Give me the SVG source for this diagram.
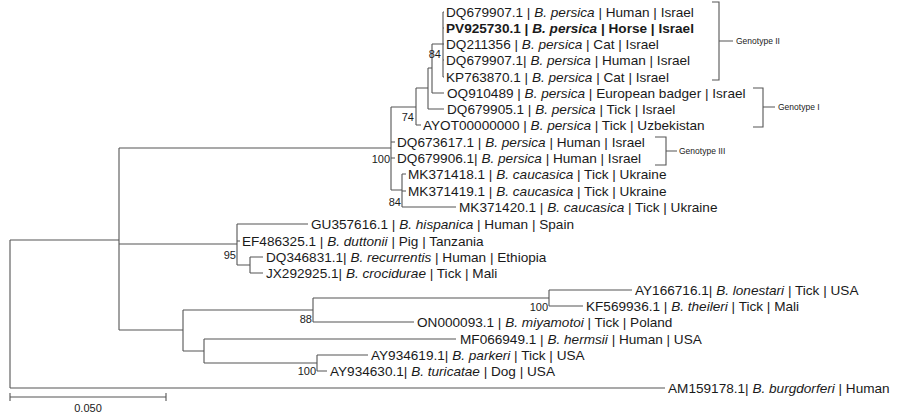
<svg xmlns="http://www.w3.org/2000/svg" width="900" height="420" viewBox="0 0 900 420">
<style>
text{font-family:"Liberation Sans",Arial,sans-serif;fill:#1a1a1a}
.l{font-size:13.6px}
.b{font-size:11px}
.g{font-size:8.5px}
.e path,.br path{fill:none;stroke:#555;stroke-width:1.1}
</style>
<rect width="900" height="420" fill="#fff"/>
<g class="e" id="connectors">
<path d="M10 240V388M10 240H119M10 388H665"/>
<path d="M119 148V330M119 148H391M119 244H237M119 330H183"/>
<path d="M391 107V190M391 107H416M391 142H395M391 158H395M391 190H402"/>
<path d="M416 88V125M416 88H428M416 125H421"/>
<path d="M428 68V109M428 68H432M428 109H444"/>
<path d="M432 44V93M432 44H443M432 93H444"/>
<path d="M443 12V77M443 12H444M443 28H444M443 44H444M443 60H444M443 77H444"/>
<path d="M402 174V207M402 174H406M402 191H406M402 207H456"/>
<path d="M237 224V265M237 224H308M237 241H240M237 265H250"/>
<path d="M250 257V273M250 257H263M250 273H263"/>
<path d="M183 310V351M183 310H313M183 351H204"/>
<path d="M313 298V322M313 298H549M313 322H414"/>
<path d="M549 290V306M549 290H632M549 306H583"/>
<path d="M204 339V363M204 339H456M204 363H317"/>
<path d="M317 355V371M317 355H368M317 371H327"/>
</g>
<g class="br" id="brackets">
<path d="M712 2H719V80H712M719 41H733"/>
<path d="M753 88H763V127H753M763 107H775"/>
<path d="M655 137H666V165H655M666 151H677"/>
</g>
<g id="scale" class="e"><path d="M10 397H166M10 393V401M166 393V401"/></g>
<text x="88" y="412" font-size="11" text-anchor="middle">0.050</text>
<g id="leaves" class="l">
<text x="446" y="17">DQ679907.1 | <tspan font-style="italic">B. persica</tspan> | Human | Israel</text>
<text x="446" y="33" font-weight="bold">PV925730.1 | <tspan font-style="italic">B. persica</tspan> | Horse | Israel</text>
<text x="446" y="49">DQ211356 | <tspan font-style="italic">B. persica</tspan> | Cat | Israel</text>
<text x="446" y="65">DQ679907.1| <tspan font-style="italic">B. persica</tspan> | Human | Israel</text>
<text x="446" y="82">KP763870.1 | <tspan font-style="italic">B. persica</tspan> | Cat | Israel</text>
<text x="447" y="98">OQ910489 | <tspan font-style="italic">B. persica</tspan> | European badger | Israel</text>
<text x="447" y="114">DQ679905.1 | <tspan font-style="italic">B. persica</tspan> | Tick | Israel</text>
<text x="423" y="130">AYOT00000000 | <tspan font-style="italic">B. persica</tspan> | Tick | Uzbekistan</text>
<text x="397" y="147">DQ673617.1 | <tspan font-style="italic">B. persica</tspan> | Human | Israel</text>
<text x="397" y="163">DQ679906.1| <tspan font-style="italic">B. persica</tspan> | Human | Israel</text>
<text x="408" y="179">MK371418.1 | <tspan font-style="italic">B. caucasica</tspan> | Tick | Ukraine</text>
<text x="408" y="196">MK371419.1 | <tspan font-style="italic">B. caucasica</tspan> | Tick | Ukraine</text>
<text x="459" y="212">MK371420.1 | <tspan font-style="italic">B. caucasica</tspan> | Tick | Ukraine</text>
<text x="311" y="229">GU357616.1 | <tspan font-style="italic">B. hispanica</tspan> | Human | Spain</text>
<text x="242" y="246">EF486325.1 | <tspan font-style="italic">B. duttonii</tspan> | Pig | Tanzania</text>
<text x="266" y="262">DQ346831.1| <tspan font-style="italic">B. recurrentis</tspan> | Human | Ethiopia</text>
<text x="266" y="278">JX292925.1| <tspan font-style="italic">B. crocidurae</tspan> | Tick | Mali</text>
<text x="635" y="295">AY166716.1| <tspan font-style="italic">B. lonestari</tspan> | Tick | USA</text>
<text x="586" y="311">KF569936.1 | <tspan font-style="italic">B. theileri</tspan> | Tick | Mali</text>
<text x="417" y="327">ON000093.1 | <tspan font-style="italic">B. miyamotoi</tspan> | Tick | Poland</text>
<text x="460" y="344">MF066949.1 | <tspan font-style="italic">B. hermsii</tspan> | Human | USA</text>
<text x="371" y="360">AY934619.1| <tspan font-style="italic">B. parkeri</tspan> | Tick | USA</text>
<text x="330" y="376">AY934630.1| <tspan font-style="italic">B. turicatae</tspan> | Dog | USA</text>
<text x="668" y="393">AM159178.1| <tspan font-style="italic">B. burgdorferi</tspan> | Human</text>
</g>
<g id="bootstrap" class="b" text-anchor="end">
<text x="441" y="58">84</text>
<text x="414" y="121">74</text>
<text x="390" y="163">100</text>
<text x="401" y="206">84</text>
<text x="236" y="259">95</text>
<text x="312" y="323">88</text>
<text x="548" y="311">100</text>
<text x="316" y="375">100</text>
</g>
<g id="labels" class="g">
<text x="736" y="44">Genotype II</text>
<text x="778" y="110">Genotype I</text>
<text x="679" y="154">Genotype III</text>
</g>
</svg>
